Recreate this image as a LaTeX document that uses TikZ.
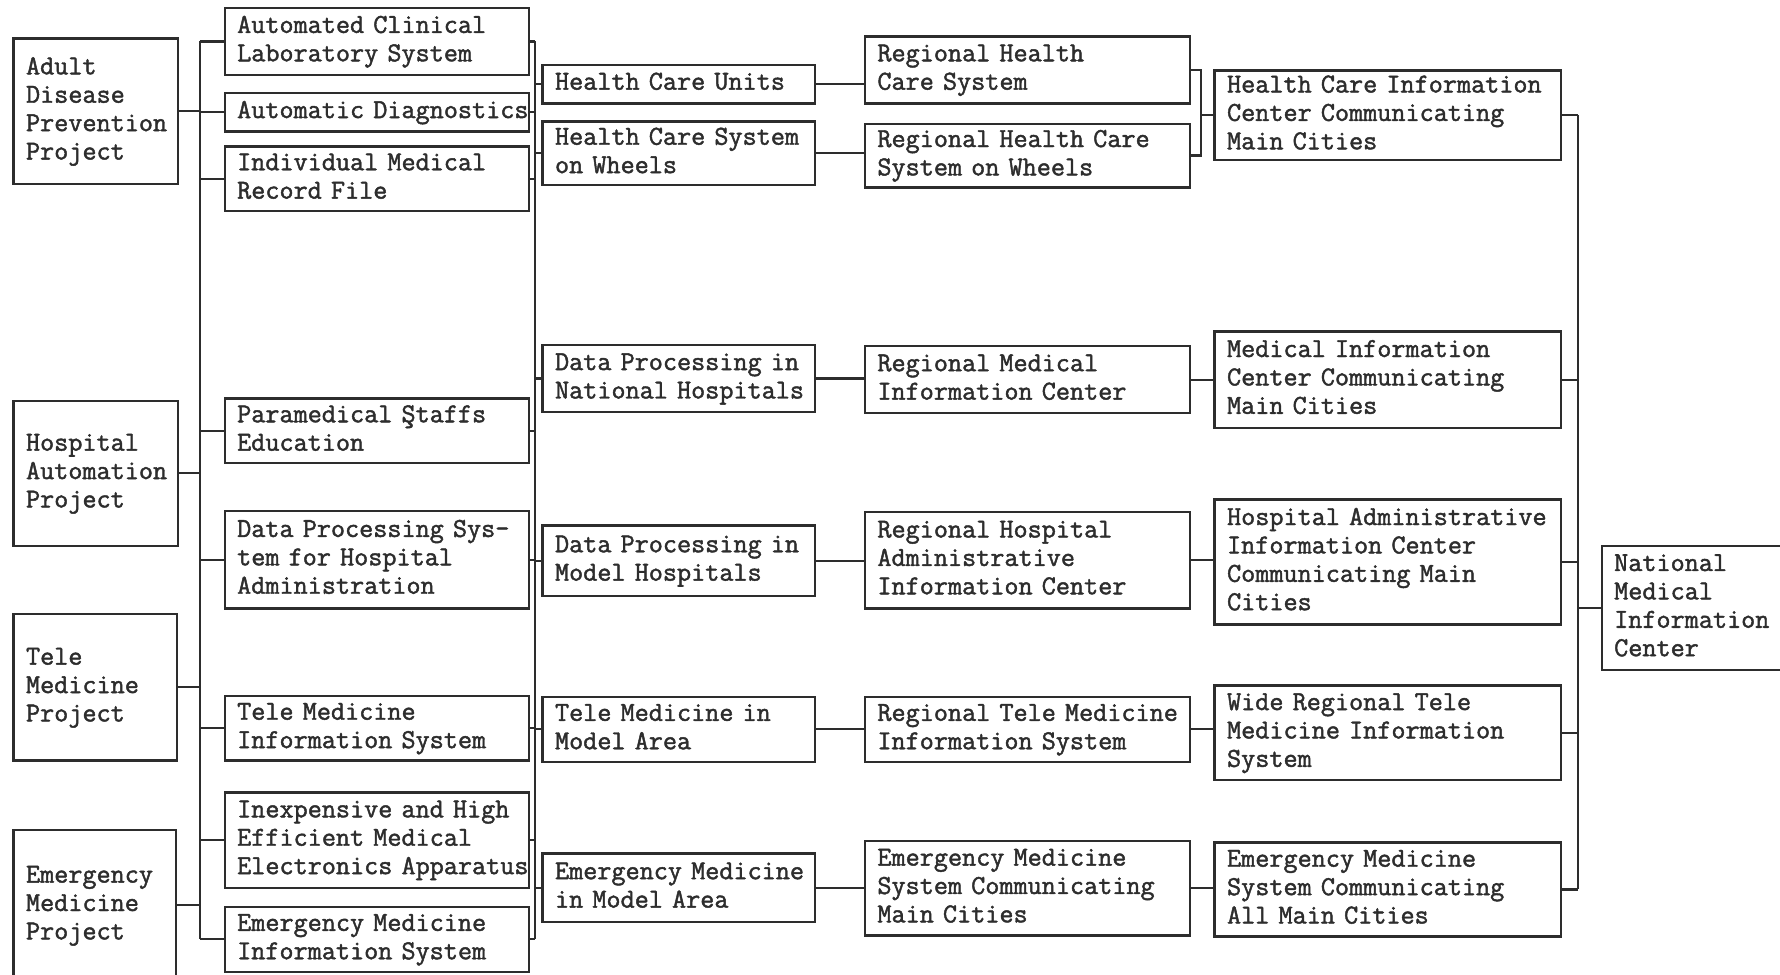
\documentclass[tikz,border=0pt]{standalone}
\usepackage{fontspec}
\setmonofont{Latin Modern Mono}[FakeBold=1.6]
\definecolor{ink}{RGB}{45,45,45}
\tikzset{
  box/.style={draw=ink, rectangle, line width=1.2pt, inner xsep=6.2pt, inner ysep=0pt,
    align=left, text=ink,
    font=\fontsize{13.7}{14.2}\selectfont\ttfamily\bfseries},
  wire/.style={draw=ink, line width=1.1pt}
}
% \bx{name}{x1}{y1}{x2}{y2}{lines}: framed box with left-aligned typed lines
\newcommand\bx[6]{%
  \pgfmathsetmacro\bxw{(#4-#2)*0.5676-2*6.2}%
  \pgfmathsetmacro\bxh{(#5-#3)*0.5676}%
  \node[box, text width=\bxw pt, minimum height=\bxh pt] (#1)
    at ({(#2+#4)/2},{(#3+#5)/2}) {\begin{tabular}{@{}l@{}}#6\end{tabular}};}
\begin{document}
\begin{tikzpicture}[x=0.5676pt, y=-0.5676pt]
\fill[white] (0,0) rectangle (1568,858);
\useasboundingbox (0,0) rectangle (1568,858);

% projects
\bx{adp}{12}{34}{157}{162}{Adult\\Disease\\Prevention\\Project}
\bx{hap}{12}{353}{157}{481}{Hospital\\Automation\\Project}
\bx{tmp}{12}{541}{156}{670}{Tele\\Medicine\\Project}
\bx{emp}{12}{731}{155}{864}{Emergency\\Medicine\\Project}

% sub-projects
\bx{acls}{198}{7}{466}{66}{Automated Clinical\\Laboratory System}
\bx{ad}{198}{82}{466}{116}{Automatic Diagnostics}
\bx{imrf}{198}{129}{466}{186}{Individual Medical\\Record File}
\bx{pse}{198}{351}{466}{408}{Paramedical Ştaffs\\Education}
\bx{dps}{198}{450}{466}{536}{Data Processing Sys-\\tem for Hospital\\Administration}
\bx{tmis}{198}{613}{466}{670}{Tele Medicine\\Information System}
\bx{ihe}{198}{698}{466}{782}{Inexpensive and High\\Efficient Medical\\Electronics Apparatus}
\bx{emis}{198}{799}{466}{856}{Emergency Medicine\\Information System}

% model systems
\bx{hcu}{478}{57}{718}{91}{Health Care Units}
\bx{hcsw}{478}{107}{718}{163}{Health Care System\\on Wheels}
\bx{dpn}{478}{304}{718}{363}{Data Processing in\\National Hospitals}
\bx{dpm}{478}{463}{718}{525}{Data Processing in\\Model Hospitals}
\bx{tmm}{478}{614}{718}{671}{Tele Medicine in\\Model Area}
\bx{emm}{478}{752}{718}{812}{Emergency Medicine\\in Model Area}

% regional systems
\bx{rhcs}{762}{32}{1048}{91}{Regional Health\\Care System}
\bx{rhcsw}{762}{109}{1048}{165}{Regional Health Care\\System on Wheels}
\bx{rmic}{762}{305}{1048}{364}{Regional Medical\\Information Center}
\bx{rhaic}{762}{451}{1048}{536}{Regional Hospital\\Administrative\\Information Center}
\bx{rtmis}{762}{614}{1048}{671}{Regional Tele Medicine\\Information System}
\bx{emsc}{762}{741}{1048}{824}{Emergency Medicine\\System Communicating\\Main Cities}

% nationwide systems
\bx{hcic}{1070}{62}{1375}{141}{Health Care Information\\Center Communicating\\Main Cities}
\bx{mic}{1070}{292}{1375}{377}{Medical Information\\Center Communicating\\Main Cities}
\bx{haic}{1070}{440}{1375}{550}{Hospital Administrative\\Information Center\\Communicating Main\\Cities}
\bx{wrt}{1070}{604}{1375}{687}{Wide Regional Tele\\Medicine Information\\System}
\bx{emsa}{1070}{742}{1375}{825}{Emergency Medicine\\System Communicating\\All Main Cities}

\bx{nmic}{1411}{481}{1585}{590}{National\\Medical\\Information\\Center}

% bus lines
\coordinate (tL) at (176,0);
\coordinate (tM) at (471,0);
\coordinate (bR) at (1058,0);
\coordinate (tR) at (1390,0);

% projects to sub-projects
\draw[wire] (tL |- acls.west) -- (tL |- emis.west);
\foreach \p in {adp,hap,tmp,emp}
  \draw[wire] (\p.east) -- (\p.east -| tL);
\foreach \s in {acls,ad,imrf,pse,dps,tmis,ihe,emis}
  \draw[wire] (tL |- \s.west) -- (\s.west);

% sub-projects to model systems
\draw[wire] (tM |- acls.east) -- (tM |- emis.east);
\foreach \s in {acls,ad,imrf,pse,dps,tmis,ihe,emis}
  \draw[wire] (\s.east) -- (\s.east -| tM);
\foreach \m in {hcu,hcsw,dpn,dpm,tmm,emm}
  \draw[wire] (tM |- \m.west) -- (\m.west);

% model systems to regional systems
\foreach \a/\b in {hcu/rhcs,hcsw/rhcsw,dpn/rmic,dpm/rhaic,tmm/rtmis,emm/emsc}
  \draw[wire] (\a.east) -- (\a.east -| \b.west);

% regional systems to nationwide systems
\draw[wire] (rhcs.east) -- (rhcs.east -| bR) -- (rhcsw.east -| bR) -- (rhcsw.east);
\draw[wire] (bR |- hcic.west) -- (hcic.west);
\foreach \a/\b in {rmic/mic,rhaic/haic,rtmis/wrt,emsc/emsa}
  \draw[wire] (\a.east) -- (\a.east -| \b.west);

% nationwide systems to the national center
\draw[wire] (tR |- hcic.east) -- (tR |- emsa.east);
\foreach \n in {hcic,mic,haic,wrt,emsa}
  \draw[wire] (\n.east) -- (\n.east -| tR);
\draw[wire] (tR |- nmic.west) -- (nmic.west);
\end{tikzpicture}
\end{document}
